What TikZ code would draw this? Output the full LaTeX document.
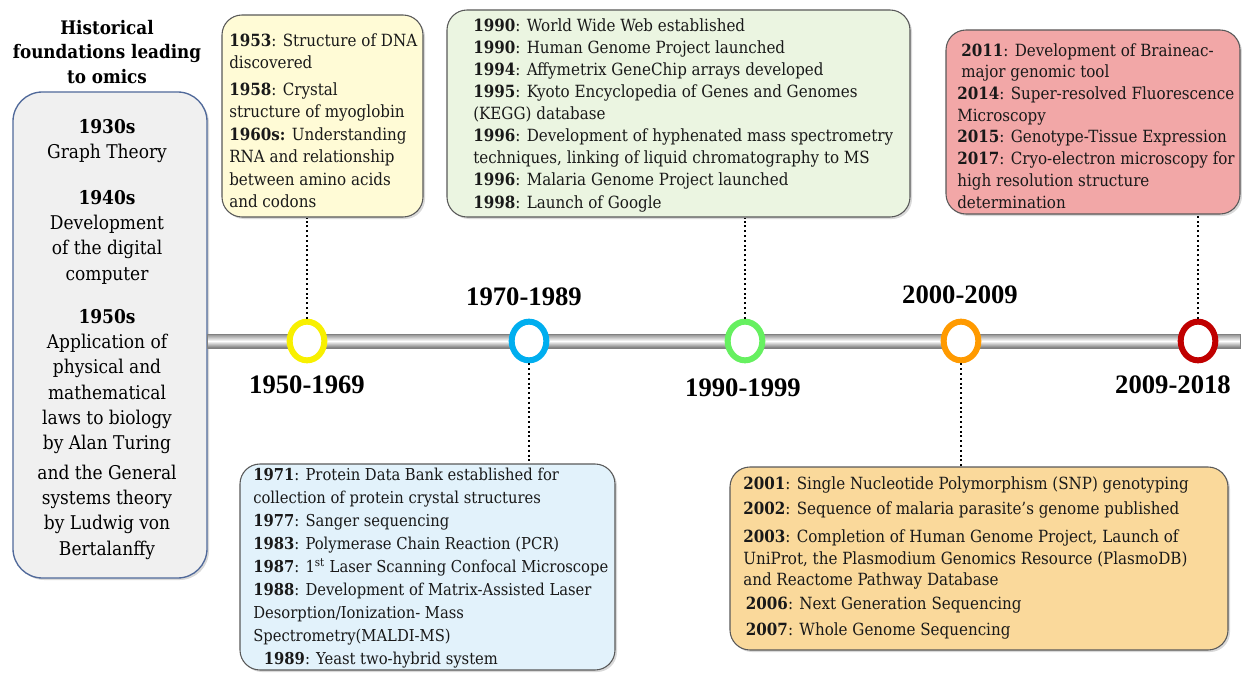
\documentclass[tikz,border=0pt]{standalone}
\usepackage{fontspec}
\setmainfont{DejaVu Serif Condensed}
\newfontfamily\rangefont{Liberation Serif}
\usetikzlibrary{shapes.geometric,fit,shadows}
\definecolor{ylwbox}{HTML}{FFFBD6}
\definecolor{grnbox}{HTML}{EBF5E1}
\definecolor{redbox}{HTML}{F2A7A7}
\definecolor{blubox}{HTML}{E2F2FB}
\definecolor{orgbox}{HTML}{FAD99B}
\definecolor{leftbox}{HTML}{F0F0F0}
\definecolor{leftborder}{HTML}{50699A}
\definecolor{ringY}{HTML}{F8F000}
\definecolor{ringB}{HTML}{00AEEF}
\definecolor{ringG}{HTML}{66F060}
\definecolor{ringO}{HTML}{FF9A00}
\definecolor{ringR}{HTML}{C00000}
\tikzset{
  evbox/.style={draw=black!65, line width=0.8pt, rounded corners=15pt, inner sep=0pt,
    drop shadow={shadow xshift=1.5pt, shadow yshift=-1.5pt, opacity=0.3}},
  txt/.style={anchor=north west, inner sep=0pt, align=left, text=black!90},
  ring/.style={ellipse, fill=white, line width=4.5pt, minimum width=26pt, minimum height=29pt, inner sep=0pt},
  rangelbl/.style={font=\rangefont\fontsize{20}{22}\selectfont\bfseries, inner sep=0pt},
  dots/.style={line width=1.6pt, dash pattern=on 1.6pt off 2pt},
  lefttxt/.style={align=center, anchor=north, inner sep=0pt, font=\fontsize{14.2}{19}\selectfont},
}
\begin{document}
\begin{tikzpicture}[x=0.75pt,y=-0.75pt]
\useasboundingbox (0,0) rectangle (1242,674);
% title
\node[align=center, font=\fontsize{14}{18.5}\selectfont\bfseries, inner sep=0pt] (title) at (107,52)
  {Historical\\ foundations leading\\ to omics};
% left box
\node[fit={(13,92) (207,578)}, draw=leftborder, fill=leftbox, line width=1pt, rounded corners=22pt, inner sep=0pt,
  drop shadow={shadow xshift=1.5pt, shadow yshift=-1.5pt, opacity=0.3}] (lbox) {};
\node[lefttxt] (g1) at (107,119) {\textbf{1930s}\\ Graph Theory};
\node[lefttxt] (g2) at (107,190) {\textbf{1940s}\\ Development\\ of the digital\\ computer};
\node[lefttxt] (g3) at (107,309)
  {\textbf{1950s}\\ Application of\\ physical and\\ mathematical\\ laws to biology\\ by Alan Turing\\[3pt] and the General\\ systems theory\\ by Ludwig von\\ Bertalanffy};
% timeline bar
\coordinate (barA) at (207,334);
\coordinate (barM) at (1240,341);
\coordinate (barB) at (1240,348);
\shade[top color=black!45, bottom color=white] (barA) rectangle (barM);
\shade[top color=white, bottom color=black!55] (barA |- barM) rectangle (barB);
\node[fit={(barA) (barB)}, inner sep=0pt, draw=black!50, line width=0.5pt] (bar) {};
% rings
\node[ring, draw=ringY] (c1) at (307,341) {};
\node[ring, draw=ringB] (c2) at (529,341) {};
\node[ring, draw=ringG] (c3) at (745,341) {};
\node[ring, draw=ringO] (c4) at (961,341) {};
\node[ring, draw=ringR] (c5) at (1198,341) {};
% range labels
\node[rangelbl] (r1) at (307,385) {1950-1969};
\node[rangelbl] (r2) at (524,297) {1970-1989};
\node[rangelbl] (r3) at (743,388) {1990-1999};
\node[rangelbl] (r4) at (960,295) {2000-2009};
\node[rangelbl] (r5) at (1173,385) {2009-2018};
% boxes
\node[evbox, fill=ylwbox, fit={(222,15) (423,217)}] (by) {};
\node[evbox, fill=grnbox, fit={(447,10) (910,217)}] (bg) {};
\node[evbox, fill=redbox, fit={(946,30) (1240,214)}] (br) {};
\node[evbox, fill=blubox, fit={(240,464) (615,670)}] (bb) {};
\node[evbox, fill=orgbox, fit={(730,467) (1228,650)}] (bo) {};
% connectors
\draw[dots] (c1.north) -- (c1.north |- by.south);
\draw[dots] (c2.south) -- (c2.south |- bb.north);
\draw[dots] (c3.north) -- (c3.north |- bg.south);
\draw[dots] (c4.south) -- (c4.south |- bo.north);
\draw[dots] (c5.north) -- (c5.north |- br.south);
% texts
\node[txt, font=\fontsize{12.6}{16.9}\selectfont] (ty) at (229,33)
  {\textbf{1953}: Structure of DNA\\ discovered\\[3pt]
   \textbf{1958}: Crystal\\ structure of myoglobin\\
   \textbf{1960s:} Understanding\\ RNA and relationship\\ between amino acids\\ and codons};
\node[txt, font=\fontsize{12.6}{16.6}\selectfont] (tg) at (473,18)
  {\textbf{1990}: World Wide Web established\\
   \textbf{1990}: Human Genome Project launched\\
   \textbf{1994}: Affymetrix GeneChip arrays developed\\
   \textbf{1995}: Kyoto Encyclopedia of Genes and Genomes\\ (KEGG) database\\
   \textbf{1996}: Development of hyphenated mass spectrometry\\ techniques, linking of liquid chromatography to MS\\
   \textbf{1996}: Malaria Genome Project launched\\
   \textbf{1998}: Launch of Google};
\node[txt, font=\fontsize{12.6}{16.3}\selectfont] (tr) at (957,43)
  {\hspace*{3pt}\textbf{2011}: Development of Braineac-\\ \hspace*{3pt}major genomic tool\\
   \textbf{2014}: Super-resolved Fluorescence\\ Microscopy\\
   \textbf{2015}: Genotype-Tissue Expression\\
   \textbf{2017}: Cryo-electron microscopy for\\ high resolution structure\\ determination};
\node[txt, font=\fontsize{12.3}{17.2}\selectfont] (tb) at (253,468)
  {\textbf{1971}: Protein Data Bank established for\\ collection of protein crystal structures\\
   \textbf{1977}: Sanger sequencing\\
   \textbf{1983}: Polymerase Chain Reaction (PCR)\\
   \textbf{1987}: 1\textsuperscript{st} Laser Scanning Confocal Microscope\\
   \textbf{1988}: Development of Matrix-Assisted Laser\\ Desorption/Ionization- Mass\\ Spectrometry(MALDI-MS)\\
   \hspace*{8pt}\textbf{1989}: Yeast two-hybrid system};
\node[txt, font=\fontsize{12.6}{16.1}\selectfont] (to) at (743,476)
  {\textbf{2001}: Single Nucleotide Polymorphism (SNP) genotyping\\[3pt]
   \textbf{2002}: Sequence of malaria parasite’s genome published\\[5pt]
   \textbf{2003}: Completion of Human Genome Project, Launch of\\ UniProt, the Plasmodium Genomics Resource (PlasmoDB)\\ and Reactome Pathway Database\\[2pt]
   \hspace*{2pt}\textbf{2006}: Next Generation Sequencing\\[3pt]
   \hspace*{2pt}\textbf{2007}: Whole Genome Sequencing};
\end{tikzpicture}
\end{document}
